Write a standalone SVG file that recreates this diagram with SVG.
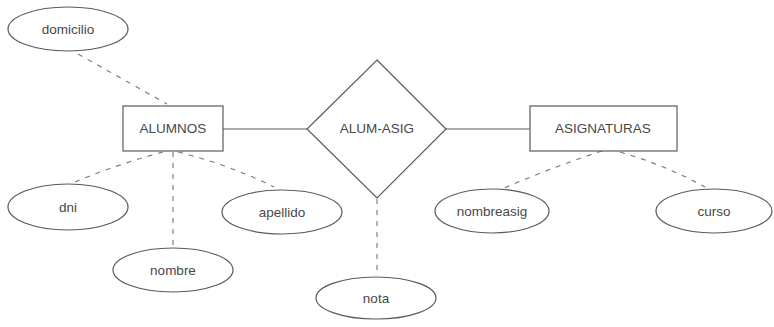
<svg xmlns="http://www.w3.org/2000/svg" width="774" height="327" viewBox="0 0 774 327">
  <style>
    .shape { fill: #ffffff; stroke: #5a5a5a; stroke-width: 1.2; }
    .solid { fill: none; stroke: #5a5a5a; stroke-width: 1.2; }
    .dash { fill: none; stroke: #777777; stroke-width: 1.1; stroke-dasharray: 5 6; }
    text { font-family: "Liberation Sans", Arial, sans-serif; font-size: 13.5px; fill: #484848; text-anchor: middle; dominant-baseline: central; }
  </style>
  <rect width="774" height="327" fill="#ffffff"/>

  <!-- connectors -->
  <g id="connectors">
    <line class="solid" x1="223" y1="129" x2="307" y2="129"/>
    <line class="solid" x1="446" y1="129" x2="530" y2="129"/>
    <line class="dash" x1="78" y1="54" x2="167" y2="104"/>
    <path class="dash" d="M163,152 Q115,165 70,184"/>
    <line class="dash" x1="173" y1="152" x2="173" y2="247"/>
    <path class="dash" d="M178,152 Q230,165 274,187"/>
    <line class="dash" x1="377" y1="199" x2="377" y2="276"/>
    <path class="dash" d="M602,151 Q550,168 502,189"/>
    <path class="dash" d="M620,152 Q665,165 705,187"/>
  </g>

  <g id="domicilio">
    <ellipse class="shape" cx="68" cy="29" rx="60" ry="22"/>
    <text x="68" y="29">domicilio</text>
  </g>

  <g id="alumnos">
    <rect class="shape" x="123" y="106" width="100" height="45"/>
    <text x="173" y="128">ALUMNOS</text>
  </g>

  <g id="alum-asig">
    <polygon class="shape" points="377,60 446,129 377,198 307,129"/>
    <text x="377" y="128">ALUM-ASIG</text>
  </g>

  <g id="asignaturas">
    <rect class="shape" x="530" y="106" width="147" height="45"/>
    <text x="603" y="128">ASIGNATURAS</text>
  </g>

  <g id="dni">
    <ellipse class="shape" cx="68" cy="207" rx="60" ry="23"/>
    <text x="68" y="207">dni</text>
  </g>

  <g id="nombre">
    <ellipse class="shape" cx="173" cy="270" rx="60" ry="22"/>
    <text x="173" y="270">nombre</text>
  </g>

  <g id="apellido">
    <ellipse class="shape" cx="282" cy="212" rx="60" ry="22"/>
    <text x="282" y="212">apellido</text>
  </g>

  <g id="nota">
    <ellipse class="shape" cx="376" cy="298" rx="60" ry="21"/>
    <text x="376" y="298">nota</text>
  </g>

  <g id="nombreasig">
    <ellipse class="shape" cx="492" cy="211" rx="57" ry="22"/>
    <text x="492" y="211">nombreasig</text>
  </g>

  <g id="curso">
    <ellipse class="shape" cx="714" cy="211" rx="58" ry="22"/>
    <text x="714" y="211">curso</text>
  </g>
</svg>
